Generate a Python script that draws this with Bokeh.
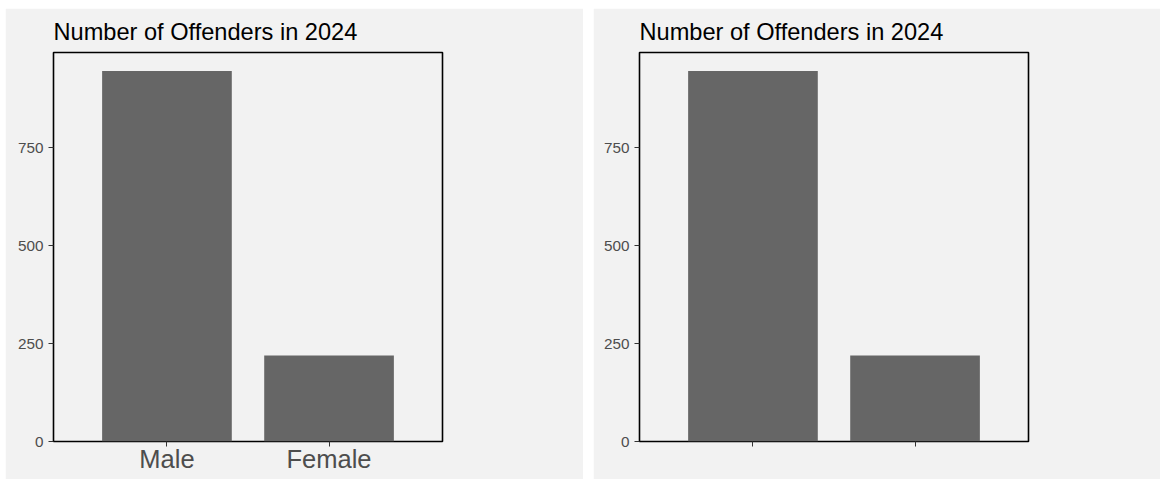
from bokeh.plotting import figure
from bokeh.models import (FactorRange, Range1d, FixedTicker, ColumnDataSource, Spacer,
                          CustomLabelingPolicy, Title)
from bokeh.layouts import row, column
from bokeh.embed import file_html
from bokeh.resources import INLINE

# ---- data ----
categories = ["Male", "Female"]
offenders = [947, 220]
y_ticks = [0, 250, 500, 750]
title_text = "Number of Offenders in 2024"

BG = "#F2F2F2"
BAR = "#666666"
FONT = "Liberation Sans"
Y_MAX = 994


def make_panel(width, mb_left, mb_right, show_labels):
    src = ColumnDataSource(dict(cat=categories, n=offenders))
    p = figure(
        x_range=FactorRange(*categories, range_padding=0.2, range_padding_units="absolute"),
        y_range=Range1d(0, Y_MAX),
        width=width, height=471,
        output_backend="svg", toolbar_location=None,
        min_border_left=mb_left, min_border_right=mb_right,
        min_border_top=44, min_border_bottom=38,
    )
    p.vbar(x="cat", top="n", width=0.8, source=src, fill_color=BAR, line_color=None)

    p.background_fill_color = BG
    p.border_fill_color = BG
    p.outline_line_color = "black"
    p.outline_line_width = 1.6
    p.xgrid.visible = False
    p.ygrid.visible = False

    p.add_layout(Title(
        text=title_text, text_font=FONT, text_font_size="23.6px",
        text_font_style="normal", text_color="black", standoff=16, offset=0,
        align="left", vertical_align="bottom",
    ), "above")

    ya = p.yaxis[0]
    ya.ticker = FixedTicker(ticks=y_ticks)
    ya.axis_line_color = None
    ya.major_tick_out = 5
    ya.major_tick_in = 0
    ya.minor_tick_line_color = None
    ya.major_tick_line_color = "#333333"
    ya.major_label_text_font = FONT
    ya.major_label_text_font_size = "15.3px"
    ya.major_label_text_color = "#4D4D4D"
    ya.major_label_standoff = 5

    xa = p.below[0]
    xa.axis_line_color = None
    xa.major_tick_out = 5
    xa.major_tick_in = 0
    xa.major_tick_line_color = "#333333"
    xa.major_label_text_font = FONT
    xa.major_label_text_font_size = "25.5px"
    xa.major_label_text_color = "#4D4D4D"
    xa.major_label_standoff = -2
    if not show_labels:
        xa.major_label_policy = CustomLabelingPolicy(
            code="const all = [...indices]; for (const i of all) indices.unset(i); return indices;"
        )
    return p


p1 = make_panel(578, 48, 141, True)
p2 = make_panel(567, 46, 132, False)

layout = column(
    Spacer(height=8),
    row(Spacer(width=5), p1, Spacer(width=10), p2, spacing=0),
    spacing=0,
)
open("out.html", "w").write(file_html(layout, INLINE))
